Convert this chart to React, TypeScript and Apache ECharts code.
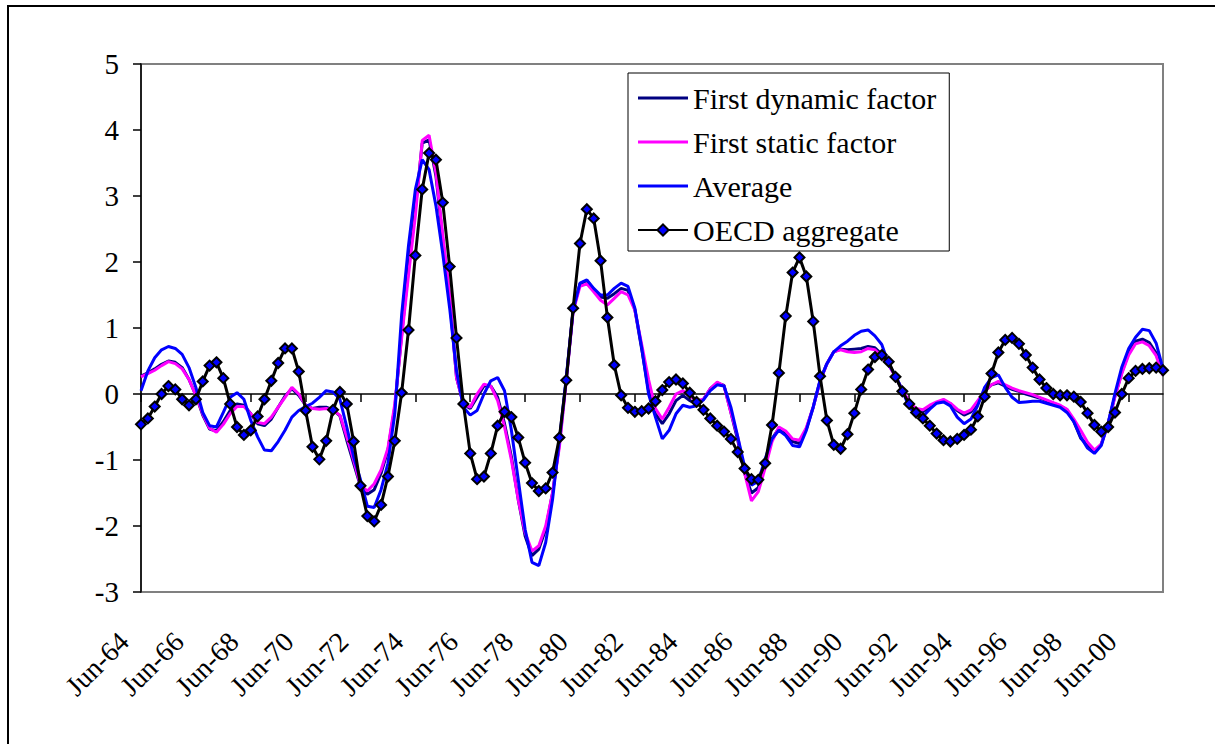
import React, { useEffect, useRef } from "react";
import * as echarts from "echarts";

const monthNames = ["Jun", "Sep", "Dec", "Mar"];
const categories: string[] = [];
for (let i = 0; i < 150; i++) {
  const m = monthNames[i % 4];
  const yr = 64 + Math.floor((i + 2) / 4);
  categories.push(m + "-" + String(yr % 100).padStart(2, "0"));
}

const yTicks = [-3, -2, -1, 0, 1, 2, 3, 4, 5];

const dynamicFactor = [
  0.27, 0.32, 0.38, 0.45, 0.5, 0.48, 0.4, 0.22, -0.02, -0.32,
  -0.53, -0.56, -0.42, -0.25, -0.15, -0.17, -0.3, -0.45, -0.48, -0.38,
  -0.2, -0.03, 0.08, -0.02, -0.17, -0.22, -0.2, -0.2, -0.24, -0.33,
  -0.7, -1.05, -1.4, -1.52, -1.45, -1.2, -0.85, -0.2, 0.9, 1.9,
  2.8, 3.8, 3.85, 3.3, 2.35, 1.45, 0.25, -0.15, -0.22, -0.05,
  0.12, 0.12, -0.05, -0.45, -0.95, -1.6, -2.15, -2.45, -2.35, -2.05,
  -1.5, -0.75, 0.22, 1.27, 1.67, 1.72, 1.58, 1.47, 1.45, 1.52,
  1.6, 1.57, 1.28, 0.68, 0.05, -0.3, -0.45, -0.3, -0.1, -0.02,
  -0.1, -0.14, -0.08, 0.08, 0.17, 0.13, -0.28, -0.7, -1.2, -1.5,
  -1.42, -1.02, -0.68, -0.52, -0.6, -0.72, -0.75, -0.53, -0.2, 0.2,
  0.46, 0.64, 0.68, 0.67, 0.68, 0.69, 0.72, 0.7, 0.6, 0.45,
  0.27, 0.06, -0.13, -0.24, -0.27, -0.2, -0.13, -0.1, -0.15, -0.25,
  -0.32, -0.27, -0.12, 0.05, 0.14, 0.17, 0.12, 0.07, 0.04, 0.0,
  -0.03, -0.06, -0.1, -0.14, -0.18, -0.24, -0.42, -0.67, -0.78, -0.88,
  -0.76, -0.44, -0.03, 0.33, 0.62, 0.8, 0.83, 0.78, 0.62, 0.3,
];

const staticFactor = [
  0.26, 0.31, 0.36, 0.43, 0.49, 0.46, 0.38, 0.22, -0.02, -0.3,
  -0.52, -0.58, -0.46, -0.3, -0.19, -0.19, -0.3, -0.43, -0.45, -0.35,
  -0.2, -0.05, 0.1, 0.0, -0.17, -0.22, -0.23, -0.22, -0.25, -0.32,
  -0.65, -1.0, -1.38, -1.47, -1.36, -1.15, -0.82, -0.15, 0.85, 1.8,
  2.7, 3.84, 3.92, 3.35, 2.4, 1.5, 0.25, -0.15, -0.2, 0.0,
  0.15, 0.12, -0.1, -0.5, -1.0, -1.6, -2.1, -2.38, -2.3, -2.0,
  -1.5, -0.8, 0.2, 1.25, 1.63, 1.67, 1.55, 1.42, 1.35, 1.45,
  1.55, 1.5, 1.27, 0.75, 0.22, -0.22, -0.38, -0.2, 0.0, 0.05,
  -0.03, -0.1, -0.08, 0.08, 0.18, 0.12, -0.28, -0.65, -1.2, -1.62,
  -1.48, -1.12, -0.72, -0.5, -0.56, -0.68, -0.7, -0.51, -0.2, 0.19,
  0.46, 0.64, 0.67, 0.64, 0.63, 0.64, 0.69, 0.67, 0.57, 0.44,
  0.26, 0.06, -0.12, -0.22, -0.24, -0.17, -0.12, -0.08, -0.14, -0.23,
  -0.29, -0.24, -0.1, 0.04, 0.14, 0.19, 0.14, 0.09, 0.05, 0.02,
  -0.01, -0.05, -0.09, -0.13, -0.17, -0.23, -0.38, -0.55, -0.73, -0.85,
  -0.76, -0.45, -0.04, 0.31, 0.59, 0.76, 0.79, 0.73, 0.58, 0.28,
];

const average = [
  0.05, 0.35, 0.55, 0.67, 0.72, 0.69, 0.6, 0.4, 0.1, -0.28,
  -0.48, -0.5, -0.28, -0.05, 0.02, -0.08, -0.4, -0.65, -0.85, -0.86,
  -0.72, -0.55, -0.35, -0.25, -0.19, -0.14, -0.05, 0.05, 0.03, -0.08,
  -0.5, -0.95, -1.3, -1.7, -1.72, -1.45, -1.05, -0.3, 1.2, 2.25,
  3.1, 3.55, 3.4, 2.85, 2.12, 1.3, 0.35, -0.2, -0.32, -0.25,
  0.0, 0.2, 0.25, 0.05, -0.55, -1.3, -2.05, -2.55, -2.6, -2.25,
  -1.6, -0.7, 0.25, 1.27, 1.68, 1.73, 1.6, 1.5, 1.5, 1.6,
  1.68, 1.63, 1.3, 0.7, 0.0, -0.35, -0.68, -0.55, -0.3, -0.17,
  -0.2, -0.18, -0.09, 0.05, 0.14, 0.12, -0.2, -0.65, -1.1, -1.38,
  -1.32, -0.98, -0.68, -0.55, -0.63, -0.78, -0.8, -0.55, -0.2, 0.21,
  0.46, 0.64, 0.73, 0.8, 0.89, 0.95, 0.97, 0.88, 0.75, 0.45,
  0.28, 0.05, -0.2, -0.31, -0.34, -0.23, -0.14, -0.12, -0.18, -0.35,
  -0.45, -0.38, -0.17, 0.1, 0.25, 0.29, 0.1, -0.05, -0.13, -0.12,
  -0.11, -0.11, -0.14, -0.17, -0.2, -0.28, -0.42, -0.65, -0.82, -0.9,
  -0.78, -0.44, 0.01, 0.41, 0.69, 0.86, 0.98, 0.96, 0.77, 0.38,
];

const oecdAggregate = [
  -0.46, -0.37, -0.19, 0.0, 0.12, 0.07, -0.08, -0.17, -0.08, 0.19,
  0.43, 0.48, 0.24, -0.15, -0.5, -0.62, -0.55, -0.34, -0.08, 0.2,
  0.47, 0.69, 0.69, 0.34, -0.25, -0.8, -0.99, -0.71, -0.24, 0.03,
  -0.15, -0.72, -1.39, -1.85, -1.93, -1.68, -1.25, -0.71, 0.02, 0.97,
  2.1, 3.1, 3.65, 3.55, 2.9, 1.93, 0.85, -0.15, -0.9, -1.29,
  -1.25, -0.9, -0.48, -0.27, -0.35, -0.66, -1.04, -1.35, -1.47, -1.43,
  -1.19, -0.66, 0.21, 1.3, 2.28, 2.8, 2.66, 2.02, 1.16, 0.44,
  -0.02, -0.21, -0.27, -0.26, -0.22, -0.11, 0.06, 0.18, 0.22, 0.16,
  0.02, -0.12, -0.24, -0.37, -0.48, -0.57, -0.68, -0.88, -1.13, -1.29,
  -1.3, -1.05, -0.47, 0.32, 1.18, 1.84, 2.07, 1.78, 1.1, 0.27,
  -0.4, -0.77, -0.83, -0.61, -0.29, 0.07, 0.37, 0.56, 0.59, 0.49,
  0.26, 0.04, -0.15, -0.28, -0.37, -0.48, -0.6, -0.7, -0.72, -0.68,
  -0.62, -0.54, -0.34, -0.04, 0.31, 0.63, 0.82, 0.85, 0.76, 0.59,
  0.4, 0.22, 0.09, 0.0, -0.02, -0.02, -0.04, -0.12, -0.29, -0.47,
  -0.57, -0.5, -0.28, 0.0, 0.24, 0.35, 0.38, 0.39, 0.4, 0.36,
];

const FONT = "'Liberation Serif', 'Times New Roman', serif";
const LINE_ICON = "path://M0,0L50,0L50,3L0,3Z";

export default function App() {
  const ref = useRef<HTMLDivElement>(null);
  useEffect(() => {
    if (!ref.current) return;
    const chart = echarts.init(ref.current, null, { renderer: "svg" });
    const option: any = {
      animation: false,
      backgroundColor: "#ffffff",
      textStyle: { fontFamily: FONT },
      graphic: [
        {
          type: "rect",
          shape: { x: 8, y: 6, width: 1220, height: 760 },
          style: { fill: "none", stroke: "#000000", lineWidth: 2 },
          silent: true,
        },
      ],
      grid: {
        left: 141,
        top: 64,
        right: 52,
        bottom: 152,
        show: true,
        borderColor: "#808080",
        borderWidth: 2,
        backgroundColor: "transparent",
      },
      legend: {
        orient: "vertical",
        left: 628,
        top: 73,
        padding: [10, 13, 6, 9],
        itemGap: 14,
        itemWidth: 50,
        itemHeight: 14,
        backgroundColor: "#ffffff",
        borderColor: "#000000",
        borderWidth: 1,
        textStyle: { fontFamily: FONT, fontSize: 30, color: "#000", lineHeight: 30 },
        data: [
          { name: "First dynamic factor", icon: LINE_ICON },
          { name: "First static factor", icon: LINE_ICON },
          { name: "Average", icon: LINE_ICON },
          { name: "OECD aggregate" },
        ],
      },
      xAxis: [
        {
          type: "category",
          data: categories,
          boundaryGap: false,
          position: "bottom",
          axisLine: { show: false, onZero: false },
          axisTick: { show: false },
          axisLabel: {
            interval: 7,
            rotate: 45,
            margin: 28,
            padding: [0, 24, 0, 0],
            fontFamily: FONT,
            fontSize: 28,
            color: "#000",
          },
          splitLine: { show: false },
        },
        {
          type: "category",
          data: categories,
          boundaryGap: false,
          position: "top",
          axisLine: { show: true, onZero: true, lineStyle: { color: "#000", width: 1.5 } },
          axisTick: { show: true, inside: true, interval: 7, length: 8, lineStyle: { color: "#000", width: 1.5 } },
          axisLabel: { show: false },
          splitLine: { show: false },
        },
      ],
      yAxis: {
        type: "value",
        min: yTicks[0],
        max: yTicks[yTicks.length - 1],
        interval: 1,
        axisLine: { show: true, lineStyle: { color: "#000", width: 1.5 } },
        axisTick: { show: true, length: 8, lineStyle: { color: "#000", width: 1.5 } },
        axisLabel: { fontFamily: FONT, fontSize: 29, color: "#000", margin: 22 },
        splitLine: { show: false },
      },
      series: [
        {
          name: "First dynamic factor",
          type: "line",
          data: dynamicFactor,
          symbol: "none",
          lineStyle: { color: "#000080", width: 3 },
          itemStyle: { color: "#000080" },
        },
        {
          name: "First static factor",
          type: "line",
          data: staticFactor,
          symbol: "none",
          lineStyle: { color: "#FF00FF", width: 3 },
          itemStyle: { color: "#FF00FF" },
        },
        {
          name: "Average",
          type: "line",
          data: average,
          symbol: "none",
          lineStyle: { color: "#0000FF", width: 3 },
          itemStyle: { color: "#0000FF" },
        },
        {
          name: "OECD aggregate",
          type: "line",
          data: oecdAggregate,
          symbol: "diamond",
          symbolSize: 10,
          showAllSymbol: true,
          lineStyle: { color: "#000000", width: 3 },
          itemStyle: { color: "#0000FF", borderColor: "#000000", borderWidth: 2 },
        },
      ],
    };
    chart.setOption(option);
    return () => chart.dispose();
  }, []);
  return (
    <div
      ref={ref}
      style={{ position: "fixed", left: 0, top: 0, width: 1215, height: 744, background: "#fff" }}
    />
  );
}
